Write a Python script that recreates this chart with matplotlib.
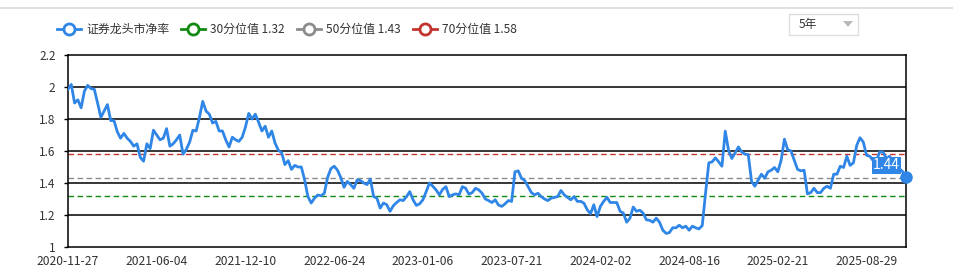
import numpy as np
import pandas as pd
import matplotlib
matplotlib.use('Agg')
import matplotlib.pyplot as plt
from matplotlib.lines import Line2D
from matplotlib.patches import FancyBboxPatch, Polygon

plt.rcParams['font.family'] = ['Noto Sans CJK SC', 'DejaVu Sans']

# weekly price-to-book of brokerage leaders, from 2020-11-27
start_date = '2020-11-27'
# weeks with no trading day at all (Spring Festival / National Day)
closed_weeks = ['2022-02-04', '2022-10-07', '2023-01-27', '2023-10-06', '2024-02-16']
pb_values = [
    1.986, 2.016, 1.90, 1.92, 1.87, 1.975, 2.01, 1.99, 1.986, 1.90,
    1.81, 1.85, 1.89, 1.79, 1.79, 1.72, 1.68, 1.71, 1.68, 1.66,
    1.63, 1.645, 1.56, 1.536, 1.645, 1.615, 1.73, 1.70, 1.67, 1.68,
    1.74, 1.63, 1.645, 1.67, 1.70, 1.58, 1.61, 1.655, 1.73, 1.725,
    1.81, 1.91, 1.85, 1.83, 1.775, 1.785, 1.725, 1.725, 1.67, 1.625,
    1.686, 1.67, 1.66, 1.686, 1.75, 1.835, 1.80, 1.83, 1.78, 1.725,
    1.755, 1.686, 1.725, 1.65, 1.605, 1.59, 1.515, 1.54, 1.485, 1.51,
    1.50, 1.50, 1.42, 1.315, 1.275, 1.305, 1.325, 1.32, 1.336, 1.435,
    1.49, 1.505, 1.48, 1.435, 1.373, 1.41, 1.39, 1.367, 1.42, 1.415,
    1.40, 1.39, 1.425, 1.315, 1.305, 1.243, 1.275, 1.264, 1.223, 1.258,
    1.278, 1.295, 1.29, 1.315, 1.346, 1.295, 1.26, 1.27, 1.295, 1.346,
    1.40, 1.38, 1.357, 1.326, 1.36, 1.377, 1.315, 1.326, 1.332, 1.326,
    1.377, 1.367, 1.33, 1.34, 1.367, 1.357,
    1.336, 1.30, 1.29, 1.278, 1.295, 1.262, 1.254, 1.27, 1.29, 1.285,
    1.47, 1.476, 1.43, 1.415, 1.377, 1.34, 1.326, 1.336, 1.315, 1.30,
    1.29, 1.305, 1.31, 1.315, 1.353, 1.326, 1.31, 1.295, 1.315, 1.285,
    1.285, 1.274, 1.233, 1.208, 1.264, 1.19, 1.254, 1.285, 1.31, 1.278,
    1.278, 1.278, 1.223, 1.212, 1.155, 1.18, 1.25, 1.223, 1.23, 1.212,
    1.17, 1.167, 1.155, 1.18, 1.155, 1.105, 1.085, 1.09, 1.12, 1.12,
    1.136, 1.12, 1.13, 1.105, 1.13, 1.12, 1.113, 1.134, 1.336, 1.526,
    1.532, 1.557, 1.532, 1.505, 1.724, 1.604, 1.553, 1.588, 1.625, 1.594,
    1.58, 1.577, 1.41, 1.38, 1.418, 1.455, 1.43, 1.47, 1.48, 1.497,
    1.47, 1.542, 1.674, 1.608, 1.60, 1.542, 1.485, 1.476, 1.48, 1.332,
    1.34, 1.367, 1.34, 1.34, 1.367, 1.38, 1.367, 1.455, 1.455, 1.505,
    1.497, 1.567, 1.51, 1.526, 1.635, 1.683, 1.656, 1.573, 1.567, 1.54,
    1.54, 1.594, 1.594, 1.553, 1.567, 1.532, 1.51, 1.49, 1.47, 1.44,
]
all_weeks = pd.date_range(start_date, periods=len(pb_values) + len(closed_weeks), freq='7D')
dates = all_weeks[~all_weeks.isin(pd.to_datetime(closed_weeks))][:len(pb_values)]
date_labels = [d.strftime('%Y-%m-%d') for d in dates]

p30, p50, p70 = 1.32, 1.43, 1.58
series_name = '证券龙头市净率'
y_ticks = [1, 1.2, 1.4, 1.6, 1.8, 2, 2.2]
label_step = 27

blue = '#2f86e6'
red = '#c23531'
green = '#138a13'
gray = '#8c8c8c'
txt = '#333333'

fig = plt.figure(figsize=(9.54, 2.73), dpi=100)
ax = fig.add_axes([68/954, 1-247/273, (906-68)/954, (247-55)/273])

x = np.arange(len(pb_values))
for yv in y_ticks[1:-1]:
    ax.axhline(yv, color='black', lw=1.1, zorder=1)
ax.axhline(p70, color=red, lw=1, ls=(0, (4, 2.5)), zorder=2)
ax.axhline(p50, color=gray, lw=1, ls=(0, (4, 2.5)), zorder=2)
ax.axhline(p30, color=green, lw=1, ls=(0, (4, 2.5)), zorder=2)
ax.plot(x, pb_values, color=blue, lw=2, zorder=3)
ax.plot(x[-1], pb_values[-1], 'o', color=blue, ms=8, zorder=5, clip_on=False)
ax.annotate(f'{pb_values[-1]:.2f}', xy=(x[-1], pb_values[-1]), xytext=(-14, 8),
            textcoords='offset points', ha='center', va='center', fontsize=10,
            color='white', zorder=6,
            bbox=dict(boxstyle='square,pad=0.1', fc=blue, ec='none'))

ax.set_xlim(0, len(pb_values)-1)
ax.set_ylim(1, 2.2)
ax.set_yticks(y_ticks)
ax.set_yticklabels([f'{v:g}' for v in y_ticks])
ticks = list(range(0, len(pb_values), label_step))
ax.set_xticks(ticks)
ax.set_xticklabels([date_labels[i] for i in ticks])
ax.tick_params(axis='y', length=3, width=1, colors='black', labelcolor=txt, labelsize=8.5, pad=6)
ax.tick_params(axis='x', length=0, labelcolor=txt, labelsize=8.7, pad=6)
for s in ax.spines.values():
    s.set_color('black')
    s.set_linewidth(1.1)

# legend
handles = [
    Line2D([], [], color=blue, lw=2, marker='o', ms=8, mfc='white', mew=2),
    Line2D([], [], color=green, lw=2, marker='o', ms=8, mfc='white', mew=2),
    Line2D([], [], color=gray, lw=2, marker='o', ms=8, mfc='white', mew=2),
    Line2D([], [], color=red, lw=2, marker='o', ms=8, mfc='white', mew=2),
]
labels = [series_name, f'30分位值 {p30}', f'50分位值 {p50}', f'70分位值 {p70}']
leg = fig.legend(handles, labels, loc='center left', bbox_to_anchor=(46/954, 1-29.5/273),
                 ncol=4, frameon=False, fontsize=8.6, handlelength=2.0,
                 handletextpad=0.45, columnspacing=1.0, labelcolor=txt)

# top divider and period dropdown
fig.add_artist(Line2D([0, 1], [1-8/273, 1-8/273], color='#d9d9d9', lw=1.2))
fig.add_artist(FancyBboxPatch((789/954, 1-35/273), 69/954, 21/273, boxstyle='square,pad=0',
                              fc='white', ec='#dddddd', lw=1, transform=fig.transFigure))
fig.text(799/954, 1-24.5/273, '5年', fontsize=8.5, color=txt, va='center', ha='left')
fig.add_artist(Polygon([[843/954, 1-21/273], [853/954, 1-21/273], [848/954, 1-27/273]],
                       closed=True, fc='#bbbbbb', ec='none', transform=fig.transFigure))

fig.savefig('out.png', dpi=100)
